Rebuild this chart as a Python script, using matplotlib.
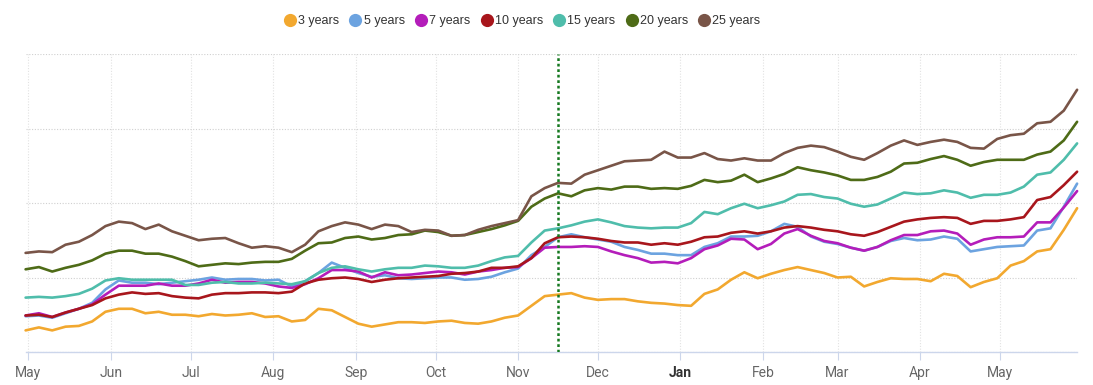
import matplotlib
matplotlib.use('Agg')
import matplotlib.pyplot as plt
import matplotlib.dates as mdates
import pandas as pd
from matplotlib.lines import Line2D

# ---- data (5-day sampling) ----
dates = pd.date_range('2024-04-30', '2025-05-30', freq='5D')
event_date = '2024-11-16'

y3 = [0.29,0.33,0.29,0.34,0.35,0.41,0.54,0.58,0.58,0.52,
      0.54,0.50,0.50,0.48,0.51,0.49,0.50,0.52,0.47,0.48,
      0.41,0.43,0.58,0.56,0.47,0.38,0.34,0.37,0.40,0.40,
      0.39,0.41,0.42,0.39,0.38,0.41,0.46,0.49,0.62,0.75,
      0.77,0.79,0.73,0.70,0.71,0.71,0.68,0.66,0.65,0.63,
      0.62,0.78,0.84,0.97,1.07,0.99,1.05,1.10,1.14,1.10,
      1.06,1.00,1.01,0.88,0.94,0.99,0.98,0.98,0.95,1.05,
      1.02,0.87,0.94,0.99,1.16,1.22,1.35,1.38,1.64,1.93]
y5 = [0.48,0.49,0.46,0.52,0.58,0.66,0.84,0.96,0.93,0.93,
      0.91,0.93,0.95,0.97,1.00,0.97,0.98,0.98,0.96,0.97,
      0.88,0.95,1.06,1.20,1.13,1.06,1.01,1.03,0.99,0.98,
      0.99,1.00,1.00,0.97,0.98,1.01,1.07,1.12,1.30,1.41,
      1.54,1.58,1.54,1.51,1.48,1.41,1.37,1.32,1.32,1.30,
      1.30,1.41,1.46,1.55,1.55,1.56,1.62,1.72,1.68,1.55,
      1.48,1.45,1.40,1.36,1.41,1.49,1.53,1.50,1.51,1.55,
      1.52,1.35,1.38,1.41,1.42,1.43,1.63,1.66,1.95,2.26]
y7 = [0.49,0.52,0.47,0.53,0.58,0.64,0.77,0.89,0.89,0.89,
      0.92,0.89,0.89,0.92,0.97,0.93,0.94,0.94,0.92,0.88,
      0.86,0.91,0.99,1.10,1.10,1.08,1.00,1.07,1.03,1.04,
      1.06,1.08,1.07,1.04,1.08,1.10,1.13,1.14,1.26,1.40,
      1.41,1.41,1.42,1.41,1.35,1.30,1.26,1.20,1.21,1.19,
      1.26,1.38,1.43,1.52,1.51,1.38,1.45,1.59,1.65,1.56,
      1.49,1.46,1.40,1.36,1.41,1.50,1.57,1.57,1.62,1.63,
      1.59,1.44,1.51,1.54,1.54,1.55,1.74,1.74,1.94,2.16]
y10 = [0.49,0.50,0.47,0.53,0.58,0.63,0.72,0.77,0.80,0.78,
       0.79,0.75,0.73,0.72,0.77,0.79,0.79,0.80,0.80,0.79,
       0.81,0.92,0.97,0.99,1.00,0.98,0.94,0.97,0.99,1.00,
       1.01,1.02,1.05,1.06,1.08,1.13,1.13,1.15,1.26,1.46,
       1.54,1.55,1.54,1.52,1.49,1.47,1.47,1.44,1.46,1.44,
       1.48,1.54,1.55,1.60,1.62,1.59,1.62,1.67,1.69,1.67,
       1.64,1.62,1.58,1.56,1.61,1.68,1.75,1.78,1.80,1.81,
       1.80,1.72,1.76,1.76,1.78,1.81,2.04,2.08,2.24,2.42]
y15 = [0.73,0.74,0.73,0.75,0.78,0.85,0.96,0.99,0.97,0.97,
       0.97,0.97,0.90,0.90,0.93,0.94,0.92,0.92,0.93,0.92,
       0.91,0.95,1.06,1.13,1.15,1.11,1.08,1.11,1.13,1.13,
       1.16,1.15,1.13,1.13,1.16,1.22,1.27,1.29,1.47,1.63,
       1.66,1.70,1.75,1.78,1.74,1.69,1.67,1.66,1.67,1.67,
       1.73,1.88,1.85,1.93,1.99,1.93,1.97,2.02,2.11,2.12,
       2.08,2.06,1.99,1.95,1.98,2.06,2.14,2.12,2.13,2.17,
       2.14,2.07,2.11,2.11,2.14,2.22,2.38,2.41,2.58,2.80]
y20 = [1.11,1.14,1.08,1.13,1.17,1.23,1.32,1.36,1.36,1.32,
       1.32,1.28,1.22,1.15,1.17,1.19,1.18,1.20,1.21,1.21,
       1.25,1.36,1.46,1.47,1.53,1.55,1.51,1.53,1.57,1.58,
       1.63,1.61,1.56,1.57,1.61,1.65,1.70,1.76,1.95,2.06,
       2.13,2.09,2.17,2.20,2.18,2.22,2.22,2.19,2.20,2.19,
       2.23,2.31,2.28,2.30,2.38,2.28,2.33,2.39,2.48,2.44,
       2.41,2.37,2.31,2.31,2.35,2.42,2.53,2.54,2.59,2.63,
       2.58,2.50,2.55,2.58,2.58,2.58,2.65,2.69,2.84,3.09]
y25 = [1.33,1.35,1.34,1.44,1.48,1.57,1.69,1.75,1.73,1.65,
       1.71,1.62,1.56,1.50,1.52,1.53,1.46,1.40,1.42,1.40,
       1.34,1.44,1.62,1.69,1.74,1.71,1.65,1.71,1.69,1.61,
       1.64,1.63,1.56,1.57,1.64,1.69,1.73,1.77,2.09,2.20,
       2.27,2.26,2.38,2.44,2.50,2.56,2.57,2.58,2.69,2.61,
       2.61,2.67,2.59,2.57,2.60,2.57,2.57,2.67,2.74,2.77,
       2.75,2.69,2.62,2.58,2.67,2.77,2.84,2.78,2.82,2.85,
       2.82,2.74,2.73,2.86,2.91,2.93,3.07,3.09,3.24,3.52]

names = ['3 years', '5 years', '7 years', '10 years', '15 years', '20 years', '25 years']
values = [y3, y5, y7, y10, y15, y20, y25]
colors = ['#F2A82F', '#6CA3E0', '#B41DBA', '#A8161C', '#4FBDAB', '#4E6B17', '#795548']

# ---- figure ----
W, H = 1093, 385
fig = plt.figure(figsize=(W / 100, H / 100), dpi=100)
ax = fig.add_axes([25.6 / W, 33 / H, 1051.5 / W, 298 / H])

for name, vals, c in zip(names, values, colors):
    ax.plot(dates, vals, color=c, lw=1.9, solid_joinstyle='round',
            solid_capstyle='round', clip_on=False, label=name, zorder=3)

ax.axvline(pd.Timestamp(event_date), color='#14781E', lw=1.8,
           ls=(0, (1.1, 1.1)), zorder=4)

ax.set_xlim(dates[0], dates[-1])
ax.set_ylim(0, 4)
ax.set_yticks([0, 1, 2, 3, 4])
ax.tick_params(axis='y', left=False, labelleft=False)
ax.yaxis.grid(True, ls=(0, (1, 1.5)), color='#d0d0d0', lw=0.8)

ax.xaxis.set_major_locator(mdates.MonthLocator())
ax.xaxis.set_major_formatter(mdates.DateFormatter('%b'))
ax.xaxis.grid(True, ls=(0, (1, 1.5)), color='#e2e2e2', lw=0.8)
ax.tick_params(axis='x', length=6, width=0.8, color='#ccd6eb',
               labelsize=10, labelcolor='#666666', pad=4)

for s in ['top', 'left', 'right']:
    ax.spines[s].set_visible(False)
ax.spines['bottom'].set_color('#ccd6eb')
ax.spines['bottom'].set_linewidth(1)
ax.set_axisbelow(True)

fig.canvas.draw()
for lbl in ax.get_xticklabels():
    lbl.set_fontfamily('Roboto')
    if lbl.get_text() == 'Jan':
        lbl.set_fontweight('bold')
        lbl.set_color('#333333')

handles = [Line2D([], [], marker='o', ls='', markersize=9.5, color=c,
                  markeredgewidth=0) for c in colors]
fig.legend(handles, names, loc='center', bbox_to_anchor=(0.478, 0.945),
           ncol=7, frameon=False, handlelength=0.9, handletextpad=0.2,
           columnspacing=0.85, borderaxespad=0,
           prop={'family': 'Liberation Sans', 'size': 9})
for t in fig.legends[0].get_texts():
    t.set_color('#333333')

fig.savefig('out.png', dpi=100, facecolor='white')
